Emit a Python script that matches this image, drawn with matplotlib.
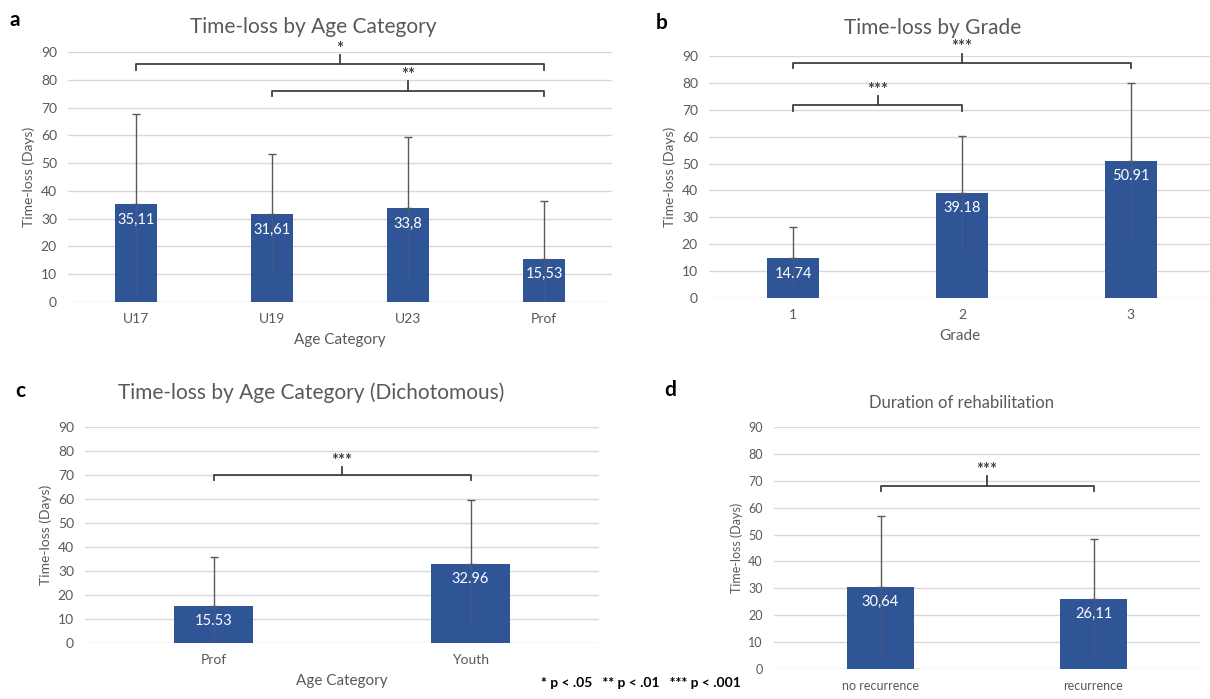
import matplotlib
matplotlib.use("Agg")
import matplotlib.pyplot as plt

plt.rcParams['font.family'] = ['Lato', 'DejaVu Sans']

# panel a
a_cats = ['U17', 'U19', 'U23', 'Prof']
a_means = [35.11, 31.61, 33.80, 15.53]
a_sd = [32.4, 21.7, 25.7, 20.8]
a_labels = ['35,11', '31,61', '33,8', '15,53']
a_sig = [(0, 3, 85.5, '*'), (1, 3, 76.0, '**')]

# panel b
b_cats = ['1', '2', '3']
b_means = [14.74, 39.18, 50.91]
b_sd = [11.8, 21.1, 29.1]
b_labels = ['14.74', '39.18', '50.91']
b_sig = [(0, 2, 87.4, '***'), (0, 1, 71.6, '***')]

# panel c
c_cats = ['Prof', 'Youth']
c_means = [15.53, 32.96]
c_sd = [20.5, 26.5]
c_labels = ['15.53', '32.96']
c_sig = [(0, 1, 69.8, '***')]

# panel d
d_cats = ['no recurrence', 'recurrence']
d_means = [30.64, 26.11]
d_sd = [26.4, 22.2]
d_labels = ['30,64', '26,11']
d_sig = [(0, 1, 68.1, '***')]

BLUE = '#2F5597'
GREY = '#595959'
GRID = '#D9D9D9'
W, H = 1210, 699


def px_axes(fig, left, right, top, bottom):
    return fig.add_axes([left / W, 1 - bottom / H, (right - left) / W, (bottom - top) / H])


def draw_panel(ax, cats, means, sd, labels, sig, xlabel=None, tick_fs=10, lab_fs=10):
    x = list(range(len(cats)))
    ax.bar(x, means, width=0.31, color=BLUE, zorder=2)
    lower = [min(s, m) for m, s in zip(means, sd)]
    ax.errorbar(x, means, yerr=[[0] * len(x), sd], fmt='none', ecolor=GREY,
                elinewidth=1, capsize=3, capthick=1, zorder=3)
    # lower half of the error bar sits faintly inside the bar
    ax.errorbar(x, means, yerr=[lower, [0] * len(x)], fmt='none', ecolor='#44598a',
                elinewidth=1, capsize=0, zorder=3)
    for xi, m, lab in zip(x, means, labels):
        ax.annotate(lab, (xi, m), xytext=(0, -6), textcoords='offset points',
                    ha='center', va='top', color='white', fontsize=10.5, zorder=4)
    for i, j, y, s in sig:
        ax.plot([i, i, j, j], [y - 2, y, y, y - 2], color='#404040', lw=1.3,
                clip_on=False, zorder=5)
        xm = (i + j) / 2
        ax.plot([xm, xm], [y, y + 3.5], color='#404040', lw=1.3, clip_on=False, zorder=5)
        ax.text(xm, y + 2.8, s, ha='center', va='bottom', fontsize=12,
                color='#404040', fontweight='bold')
    ax.set_ylim(0, 90)
    ax.set_yticks(range(0, 91, 10))
    ax.set_xticks(x)
    ax.set_xticklabels(cats)
    ax.grid(axis='y', color=GRID, lw=1, zorder=0)
    ax.set_axisbelow(True)
    for sp in ax.spines.values():
        sp.set_visible(False)
    ax.tick_params(length=0, labelsize=tick_fs, colors=GREY, pad=8)
    ax.set_ylabel('Time-loss (Days)', color=GREY, fontsize=lab_fs)
    if xlabel:
        ax.set_xlabel(xlabel, color=GREY, fontsize=11, labelpad=6)


fig = plt.figure(figsize=(12.1, 6.99), dpi=100)

ax_a = px_axes(fig, 68, 612, 52, 302)
draw_panel(ax_a, a_cats, a_means, a_sd, a_labels, a_sig, 'Age Category')
ax_a.set_xlim(-0.5, 3.5)
ax_a.set_title('Time-loss by Age Category', color=GREY, fontsize=15, pad=14, x=0.45)

ax_b = px_axes(fig, 709, 1210, 56, 298)
draw_panel(ax_b, b_cats, b_means, b_sd, b_labels, b_sig, 'Grade')
ax_b.set_xlim(-0.5, 2.47)
ax_b.set_title('Time-loss by Grade', color=GREY, fontsize=15, pad=16, x=0.447)

ax_c = px_axes(fig, 85, 599, 427, 643)
draw_panel(ax_c, c_cats, c_means, c_sd, c_labels, c_sig, 'Age Category')
ax_c.set_xlim(-0.5, 1.5)
ax_c.set_title('Time-loss by Age Category (Dichotomous)', color=GREY, fontsize=15,
               pad=20, x=0.44)

ax_d = px_axes(fig, 774, 1200, 427, 669)
draw_panel(ax_d, d_cats, d_means, d_sd, d_labels, d_sig, tick_fs=9, lab_fs=9)
ax_d.set_xlim(-0.5, 1.5)
ax_d.set_title('Duration of rehabilitation', color=GREY, fontsize=12, pad=14, x=0.44)

for letter, xp, yp in [('a', 15, 20), ('b', 662, 23), ('c', 20, 391), ('d', 670, 390)]:
    fig.text(xp / W, 1 - yp / H, letter, fontsize=15, fontweight='bold',
             ha='center', va='center')

fig.text(641 / W, 1 - 683 / H, '* p < .05   ** p < .01   *** p < .001',
         fontsize=10, fontweight='bold', ha='center', va='center')

fig.savefig('out.png', dpi=100)
